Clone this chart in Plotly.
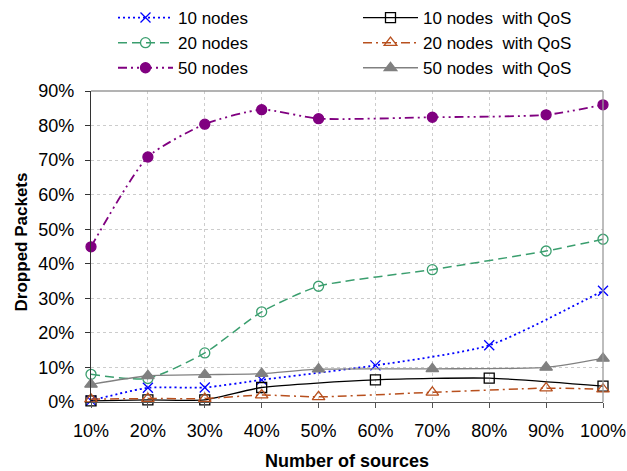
import plotly.graph_objects as go

# Data (x in % of sources, y in % dropped packets)
x_a = [10, 20, 30, 40, 60, 80, 100]          # series with markers at these points
x_b = [10, 20, 30, 40, 50, 70, 90, 100]

nodes10 = [0.4, 4.1, 4.2, 6.4, 10.6, 16.4, 32.2]
nodes20 = [8.0, 6.8, 14.2, 26.1, 33.5, 38.3, 43.7, 47.1]
nodes50 = [44.9, 70.9, 80.4, 84.6, 82.0, 82.4, 83.1, 86.0]
nodes10_qos = [0.3, 0.6, 0.6, 4.2, 6.4, 6.9, 4.6]
nodes20_qos = [0.8, 1.0, 1.0, 2.0, 1.5, 2.8, 4.0, 3.7]
nodes50_qos = [5.1, 7.6, 7.9, 8.2, 9.5, 9.6, 10.0, 12.6]

x_ticks = [10, 20, 30, 40, 50, 60, 70, 80, 90, 100]
x_ticktext = ["10%", "20%", "30%", "40%", "50%", "60%", "70%", "80%", "90%", "100%"]
y_ticks = [0, 10, 20, 30, 40, 50, 60, 70, 80, 90]
y_ticktext = ["0%", "10%", "20%", "30%", "40%", "50%", "60%", "70%", "80%", "90%"]

FONT = "Liberation Sans, Arial, sans-serif"
SMOOTH = 0.6

W, H = 627, 471

fig = go.Figure()

def add(name, xs, ys, color, dash, symbol, size, width, legend, mline=None, mfill=None):
    fig.add_trace(go.Scatter(
        x=xs, y=ys, name=name, mode="lines+markers",
        line=dict(color=color, dash=dash, width=width, shape="spline", smoothing=SMOOTH),
        marker=dict(symbol=symbol, size=size,
                    color=mfill if mfill else color,
                    line=dict(color=mline if mline else color, width=1.3)),
        cliponaxis=False, legend=legend, hoverinfo="skip",
    ))

add("10 nodes", x_a, nodes10, "#0000ff", "2px,3px", "x-thin-open", 10, 1.8, "legend")
add("20 nodes", x_b, nodes20, "#3a9e6e", "9px,5px", "circle-open", 10, 1.5, "legend")
add("50 nodes", x_b, nodes50, "#800080", "9px,4px,2px,4px,2px,4px", "circle", 10, 1.8, "legend")
add("10 nodes  with QoS", x_a, nodes10_qos, "#000000", "solid", "square-open", 10, 1.3, "legend2")
add("20 nodes  with QoS", x_b, nodes20_qos, "#b8501e", "9px,4px,2px,4px", "triangle-up-open", 11, 1.5, "legend2")
add("50 nodes  with QoS", x_b, nodes50_qos, "#808080", "solid", "triangle-up", 11, 1.3, "legend2")

# top/right frame
fig.add_shape(type="line", xref="paper", yref="paper", x0=0, x1=1, y0=1, y1=1,
              line=dict(color="#9a9a9a", width=1.3))
fig.add_shape(type="line", xref="paper", yref="paper", x0=1, x1=1, y0=0, y1=1,
              line=dict(color="#9a9a9a", width=1.3))

# axis titles
fig.add_annotation(text="<b>Number of sources</b>", xref="paper", yref="paper",
                   x=0.5, y=-0.19, xanchor="center", yanchor="middle",
                   showarrow=False, font=dict(size=18, family=FONT))
fig.add_annotation(text="<b>Dropped Packets</b>", xref="paper", yref="paper",
                   x=-0.135, y=0.516, xanchor="center", yanchor="middle", textangle=-90,
                   showarrow=False, font=dict(size=17, family=FONT))

fig.update_layout(
    width=W, height=H,
    margin=dict(l=91, r=24, t=91, b=69, autoexpand=False),
    paper_bgcolor="white", plot_bgcolor="white",
    hovermode=False,
    font=dict(family=FONT, size=18, color="#000000"),
    legend=dict(xref="container", yref="container", x=113/W, y=1,
                xanchor="left", yanchor="top", itemwidth=55,
                font=dict(size=17), bgcolor="rgba(0,0,0,0)", tracegroupgap=0),
    legend2=dict(xref="container", yref="container", x=358/W, y=1,
                 xanchor="left", yanchor="top", itemwidth=55,
                 font=dict(size=17), bgcolor="rgba(0,0,0,0)", tracegroupgap=0),
    xaxis=dict(range=[10, 100], tickvals=x_ticks, ticktext=x_ticktext,
               showgrid=True, gridcolor="#cccccc", griddash="dot", gridwidth=1,
               showline=True, linecolor="#555555", linewidth=1.3,
               ticks="outside", ticklen=5, tickcolor="#555555",
               ticklabelstandoff=7,
               zeroline=False, automargin=False),
    yaxis=dict(range=[0, 90], tickvals=y_ticks, ticktext=y_ticktext,
               showgrid=True, gridcolor="#cccccc", griddash="dot", gridwidth=1,
               showline=True, linecolor="#333333", linewidth=1.3,
               ticks="outside", ticklen=5, tickcolor="#333333",
               ticklabelstandoff=7,
               zeroline=False, automargin=False),
)

# remove the browser's default 8px body margin so the figure fills the window exactly
fig.write_html("out.html", config={"displayModeBar": False},
               post_script="document.body.style.margin='0';")
